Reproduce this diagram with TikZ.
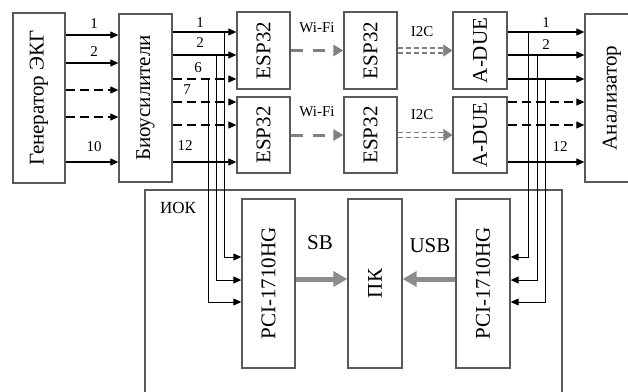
\documentclass[tikz,border=0pt]{standalone}
\usepackage{fontspec}
\setmainfont{Liberation Serif}
\usetikzlibrary{arrows.meta}
\begin{document}
\begin{tikzpicture}[x=1pt,y=-1pt,
  blk/.style={draw=black!65, line width=1.3pt, fill=white, inner sep=0pt,
    font=\fontsize{21}{24}\selectfont},
  sig/.style={draw=black, line width=1.1pt, -{Triangle[length=8pt,width=7pt]}},
  dsig/.style={sig, dash pattern=on 9pt off 5pt},
  busl/.style={draw=black, line width=1pt, -{Triangle[length=8pt,width=7pt]}},
  num/.style={font=\fontsize{15}{17}\selectfont, inner sep=0pt},
  lbl/.style={font=\fontsize{15}{17}\selectfont, inner sep=0pt},
  biglbl/.style={font=\fontsize{21}{24}\selectfont, inner sep=0pt},
  wifi/.style={draw=black!50, line width=3pt, dash pattern=on 12pt off 10pt,
    -{Triangle[length=10pt,width=11pt]}},
  i2cl/.style={draw=black!50, line width=1.1pt, dash pattern=on 5pt off 3pt},
  i2ctip/.style={draw=black!50, fill=black!50, line width=0.8pt,
    -{Triangle[length=9pt,width=12pt]}},
  thick/.style={draw=black!45, line width=5pt, -{Triangle[length=14pt,width=15pt]}}
]
\clip (0,0) rectangle (628,391);
\fill[white] (0,0) rectangle (628,391);

% outer IOK frame
\node[draw=black!65, line width=1.3pt, minimum width=417pt, minimum height=240pt,
  inner sep=0pt] (iok) at (353.5,310) {};
\node[font=\fontsize{17}{20}\selectfont, inner sep=0pt] (iokl) at (178,208) {ИОК};

% blocks
\node[blk, minimum width=52pt, minimum height=170pt] (gen) at (39,98) {\rotatebox{90}{Генератор ЭКГ}};
\node[blk, minimum width=53pt, minimum height=168pt] (bio) at (145.5,98) {\rotatebox{90}{Биоусилители}};
\node[blk, minimum width=53pt, minimum height=77pt] (esp1) at (263.5,50.5) {\rotatebox{90}{ESP32}};
\node[blk, minimum width=53pt, minimum height=76pt] (esp2) at (263.5,135) {\rotatebox{90}{ESP32}};
\node[blk, minimum width=53pt, minimum height=77pt] (esp3) at (370.5,50.5) {\rotatebox{90}{ESP32}};
\node[blk, minimum width=53pt, minimum height=76pt] (esp4) at (370.5,135) {\rotatebox{90}{ESP32}};
\node[blk, minimum width=54pt, minimum height=77pt] (adue1) at (480,50.5) {\rotatebox{90}{A-DUE}};
\node[blk, minimum width=54pt, minimum height=76pt] (adue2) at (480,135) {\rotatebox{90}{A-DUE}};
\node[blk, minimum width=54pt, minimum height=168pt] (an) at (612,98) {\rotatebox{90}{Анализатор}};
\node[blk, minimum width=53pt, minimum height=169pt] (pci1) at (268.5,283.5) {\rotatebox{90}{PCI-1710HG}};
\node[blk, minimum width=54pt, minimum height=169pt] (pk) at (375,283.5) {\rotatebox{90}{ПК}};
\node[blk, minimum width=54pt, minimum height=169pt] (pci2) at (483,283.5) {\rotatebox{90}{PCI-1710HG}};

% y levels
\coordinate (g1) at (0,35);  \coordinate (g2) at (0,63);  \coordinate (g3) at (0,90);
\coordinate (g4) at (0,117); \coordinate (g5) at (0,162);
\coordinate (b1) at (0,32);  \coordinate (b2) at (0,55);  \coordinate (b3) at (0,79);
\coordinate (b4) at (0,102); \coordinate (b5) at (0,125); \coordinate (b6) at (0,162);
\coordinate (p1) at (0,257); \coordinate (p2) at (0,280); \coordinate (p3) at (0,302);
\coordinate (sy) at (0,279);
% bus x positions
\coordinate (lv1) at (224,0); \coordinate (lv2) at (216,0); \coordinate (lv3) at (208,0);
\coordinate (rv1) at (528,0); \coordinate (rv2) at (537,0); \coordinate (rv3) at (545,0);

% generator -> bioamplifiers
\draw[sig]  (gen.east |- g1) -- (bio.west |- g1);
\draw[sig]  (gen.east |- g2) -- (bio.west |- g2);
\draw[dsig] (gen.east |- g3) -- (bio.west |- g3);
\draw[dsig] (gen.east |- g4) -- (bio.west |- g4);
\draw[sig]  (gen.east |- g5) -- (bio.west |- g5);
\node[num] (ng1) at (94,24) {1};
\node[num] (ng2) at (94,52) {2};
\node[num] (ng3) at (94,147) {10};

% bioamplifiers -> ESP32
\draw[sig]  (bio.east |- b1) -- (esp1.west |- b1);
\draw[sig]  (bio.east |- b2) -- (esp1.west |- b2);
\draw[dsig] (bio.east |- b3) -- (esp1.west |- b3);
\draw[dsig] (bio.east |- b4) -- (esp2.west |- b4);
\draw[dsig] (bio.east |- b5) -- (esp2.west |- b5);
\draw[sig]  (bio.east |- b6) -- (esp2.west |- b6);
\node[num] (nb1) at (200,23) {1};
\node[num] (nb2) at (200,43) {2};
\node[num] (nb3) at (198,68) {6};
\node[num] (nb4) at (187,90) {7};
\node[num] (nb5) at (185,146) {12};

% left bus to PCI
\draw[busl] (lv1 |- b1) -- (lv1 |- p1) -- (pci1.west |- p1);
\draw[busl] (lv2 |- b2) -- (lv2 |- p2) -- (pci1.west |- p2);
\draw[busl] (lv3 |- b3) -- (lv3 |- p3) -- (pci1.west |- p3);

% Wi-Fi
\draw[wifi] (esp1.east) -- (esp3.west);
\draw[wifi] (esp2.east) -- (esp4.west);
\node[lbl] (wf1) at (317,28) {Wi-Fi};
\node[lbl] (wf2) at (317,112) {Wi-Fi};

% I2C
\draw[i2cl] ([yshift=-2.5pt]esp3.east) -- ([yshift=-2.5pt,xshift=-8pt]adue1.west);
\draw[i2cl] ([yshift=2.5pt]esp3.east) -- ([yshift=2.5pt,xshift=-8pt]adue1.west);
\draw[i2ctip] ([xshift=-9pt]adue1.west) -- (adue1.west);
\draw[i2cl] ([yshift=-2.5pt]esp4.east) -- ([yshift=-2.5pt,xshift=-8pt]adue2.west);
\draw[i2cl] ([yshift=2.5pt]esp4.east) -- ([yshift=2.5pt,xshift=-8pt]adue2.west);
\draw[i2ctip] ([xshift=-9pt]adue2.west) -- (adue2.west);
\node[lbl] (ic1) at (422,32) {I2C};
\node[lbl] (ic2) at (422,115) {I2C};

% A-DUE -> analyzer
\draw[sig]  (adue1.east |- b1) -- (an.west |- b1);
\draw[sig]  (adue1.east |- b2) -- (an.west |- b2);
\draw[sig]  (adue1.east |- b3) -- (an.west |- b3);
\draw[dsig] (adue2.east |- b4) -- (an.west |- b4);
\draw[dsig] (adue2.east |- b5) -- (an.west |- b5);
\draw[sig]  (adue2.east |- b6) -- (an.west |- b6);
\node[num] (na1) at (546,23) {1};
\node[num] (na2) at (546,45) {2};
\node[num] (na3) at (560,147) {12};

% right bus to PCI
\draw[busl] (rv1 |- b1) -- (rv1 |- p1) -- (pci2.east |- p1);
\draw[busl] (rv2 |- b2) -- (rv2 |- p2) -- (pci2.east |- p2);
\draw[busl] (rv3 |- b3) -- (rv3 |- p3) -- (pci2.east |- p3);

% SB / USB
\draw[thick] (pci1.east |- sy) -- (pk.west |- sy);
\draw[thick] (pci2.west |- sy) -- (pk.east |- sy);
\node[biglbl] (sb) at (320,243) {SB};
\node[biglbl] (usb) at (430,246) {USB};
\end{tikzpicture}
\end{document}
